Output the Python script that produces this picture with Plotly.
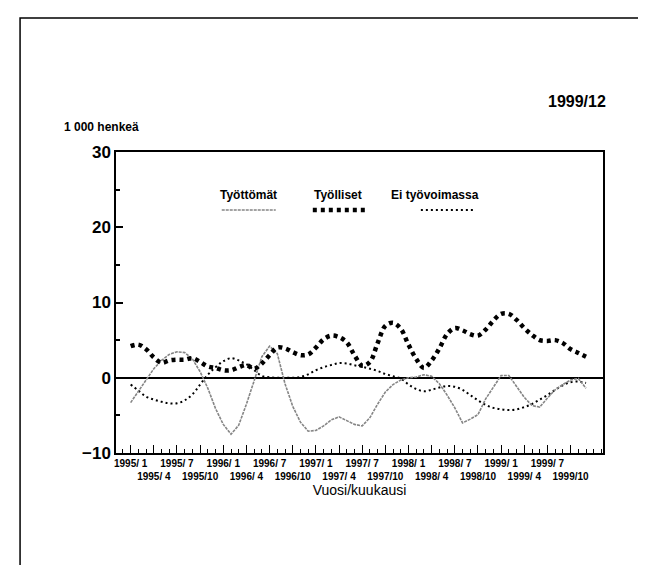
import plotly.graph_objects as go

# month index 0 = 1995/1 ... 59 = 1999/12
months = list(range(60))

tick_labels = ["1995/ 1", "1995/ 4", "1995/ 7", "1995/10",
               "1996/ 1", "1996/ 4", "1996/ 7", "1996/10",
               "1997/ 1", "1997/ 4", "1997/ 7", "1997/10",
               "1998/ 1", "1998/ 4", "1998/ 7", "1998/10",
               "1999/ 1", "1999/ 4", "1999/ 7", "1999/10"]
tick_pos = list(range(0, 60, 3))

# 1 000 henkeä
tyolliset = [4.2, 4.4, 3.8, 2.7, 2.0, 2.3, 2.4, 2.4, 2.6, 2.1,
             1.5, 1.3, 1.0, 1.0, 1.4, 1.7, 1.2, 1.9, 3.0, 4.0,
             3.9, 3.4, 3.0, 3.1, 4.0, 5.1, 5.6, 5.4, 4.7, 3.0,
             1.6, 2.1, 4.6, 6.9, 7.3, 6.5, 4.4, 2.5, 1.3, 2.3,
             3.9, 5.8, 6.6, 6.3, 5.8, 5.6, 6.4, 7.6, 8.5, 8.5,
             7.7, 6.6, 5.7, 5.0, 4.9, 5.0, 4.6, 3.8, 3.3, 2.8]

tyottomat = [-3.3, -1.8, -0.2, 1.2, 2.3, 3.1, 3.45, 3.35, 2.5, 0.8,
             -1.4, -4.1, -6.2, -7.5, -6.3, -3.5, -0.4, 2.8, 4.2, 3.2,
             -0.8, -3.8, -5.9, -7.1, -7.0, -6.4, -5.6, -5.2, -5.7, -6.2,
             -6.4, -5.3, -3.5, -1.9, -0.9, -0.3, 0.0, 0.1, 0.4, 0.2,
             -0.8, -2.3, -4.0, -6.0, -5.5, -4.9, -2.8, -1.2, 0.3, 0.3,
             -1.2, -2.6, -3.7, -3.9, -2.7, -1.6, -0.9, -0.3, -0.1, -1.4]

ei_tyovoimassa = [-0.9, -1.7, -2.5, -2.9, -3.2, -3.4, -3.4, -3.0, -2.2, -0.9,
                  0.4, 1.4, 2.2, 2.6, 2.3, 1.8, 1.0, 0.25, 0.05, 0.0,
                  0.0, 0.0, 0.1, 0.45, 1.0, 1.4, 1.7, 1.95, 1.9, 1.65,
                  1.45, 1.2, 0.9, 0.5, 0.2, -0.1, -0.9, -1.5, -1.8, -1.6,
                  -1.3, -1.1, -1.2, -1.6, -2.3, -3.0, -3.6, -4.0, -4.2, -4.3,
                  -4.2, -3.9, -3.5, -2.9, -2.3, -1.6, -1.0, -0.6, -0.5, -0.7]

FONT = "Liberation Sans, Arial, sans-serif"

styles = {
    "Työttömät": dict(color="#858585", width=1.6, dash="3px,1px"),
    "Työlliset": dict(color="black", width=4.5, dash="4px,4px"),
    "Ei työvoimassa": dict(color="black", width=2, dash="2px,3px"),
}

fig = go.Figure()
fig.add_trace(go.Scatter(x=months, y=ei_tyovoimassa, mode="lines", name="Ei työvoimassa",
                         line=dict(shape="spline", **styles["Ei työvoimassa"])))
fig.add_trace(go.Scatter(x=months, y=tyottomat, mode="lines", name="Työttömät",
                         line=dict(**styles["Työttömät"])))
fig.add_trace(go.Scatter(x=months, y=tyolliset, mode="lines", name="Työlliset",
                         line=dict(shape="spline", **styles["Työlliset"])))

# hand-made legend inside the plot
legend_x = {"Työttömät": 15.3, "Työlliset": 26.8, "Ei työvoimassa": 39.4}
sample_x = {"Työttömät": (11.8, 18.8), "Työlliset": (23.6, 30.4), "Ei työvoimassa": (37.6, 44.4)}
annotations = []
shapes = []
for name in ["Työttömät", "Työlliset", "Ei työvoimassa"]:
    annotations.append(dict(x=legend_x[name], y=24.3, xref="x", yref="y", text="<b>" + name + "</b>",
                            showarrow=False, font=dict(family=FONT, size=12, color="black")))
    x0, x1 = sample_x[name]
    shapes.append(dict(type="line", xref="x", yref="y", x0=x0, x1=x1, y0=22.3, y1=22.3,
                       line=styles[name]))

annotations.append(dict(x=1.01, y=1.169, xref="paper", yref="paper", xanchor="right",
                        yanchor="middle", text="<b>1999/12</b>", showarrow=False,
                        font=dict(family=FONT, size=16, color="black")))
annotations.append(dict(x=-0.11, y=1.083, xref="paper", yref="paper", xanchor="left",
                        yanchor="middle", text="<b>1 000 henkeä</b>", showarrow=False,
                        font=dict(family=FONT, size=12, color="black")))

# outer frame of the page
shapes.append(dict(type="rect", xref="paper", yref="paper", x0=-0.197, x1=1.094,
                   y0=-0.5, y1=1.445, line=dict(color="black", width=1.5)))

fig.update_layout(
    width=646, height=565,
    margin=dict(l=108, r=51, t=144, b=120),
    paper_bgcolor="white", plot_bgcolor="white",
    showlegend=False,
    annotations=annotations,
    shapes=shapes,
    font=dict(family=FONT, color="black"),
)
fig.update_xaxes(
    range=[-1.9, 61.2], showgrid=False, zeroline=False,
    showline=True, mirror=True, linecolor="black", linewidth=1.5,
    tickmode="array", tickvals=tick_pos, tickangle=0,
    ticktext=[t if k % 2 == 0 else "<br>" + t for k, t in enumerate(tick_labels)],
    ticks="inside", ticklen=8, tickwidth=1.2, tickcolor="black",
    minor=dict(ticks="inside", ticklen=4, tickmode="linear", tick0=0, dtick=1,
               tickcolor="black", tickwidth=1),
    tickfont=dict(family=FONT, size=10, weight="bold"),
    title=dict(text="Vuosi/kuukausi", font=dict(family=FONT, size=14), standoff=2),
)
fig.update_yaxes(
    range=[-10, 30], showgrid=False,
    zeroline=True, zerolinecolor="black", zerolinewidth=2,
    showline=True, mirror=True, linecolor="black", linewidth=1.5,
    tickmode="array", tickvals=[-10, 0, 10, 20, 30],
    ticks="inside", ticklen=7, tickwidth=1.5, tickcolor="black",
    minor=dict(ticks="inside", ticklen=4, tickmode="linear", tick0=0, dtick=5,
               tickcolor="black", tickwidth=1.5),
    tickfont=dict(family=FONT, size=17, weight="bold"),
)

fig.write_html("out.html")
